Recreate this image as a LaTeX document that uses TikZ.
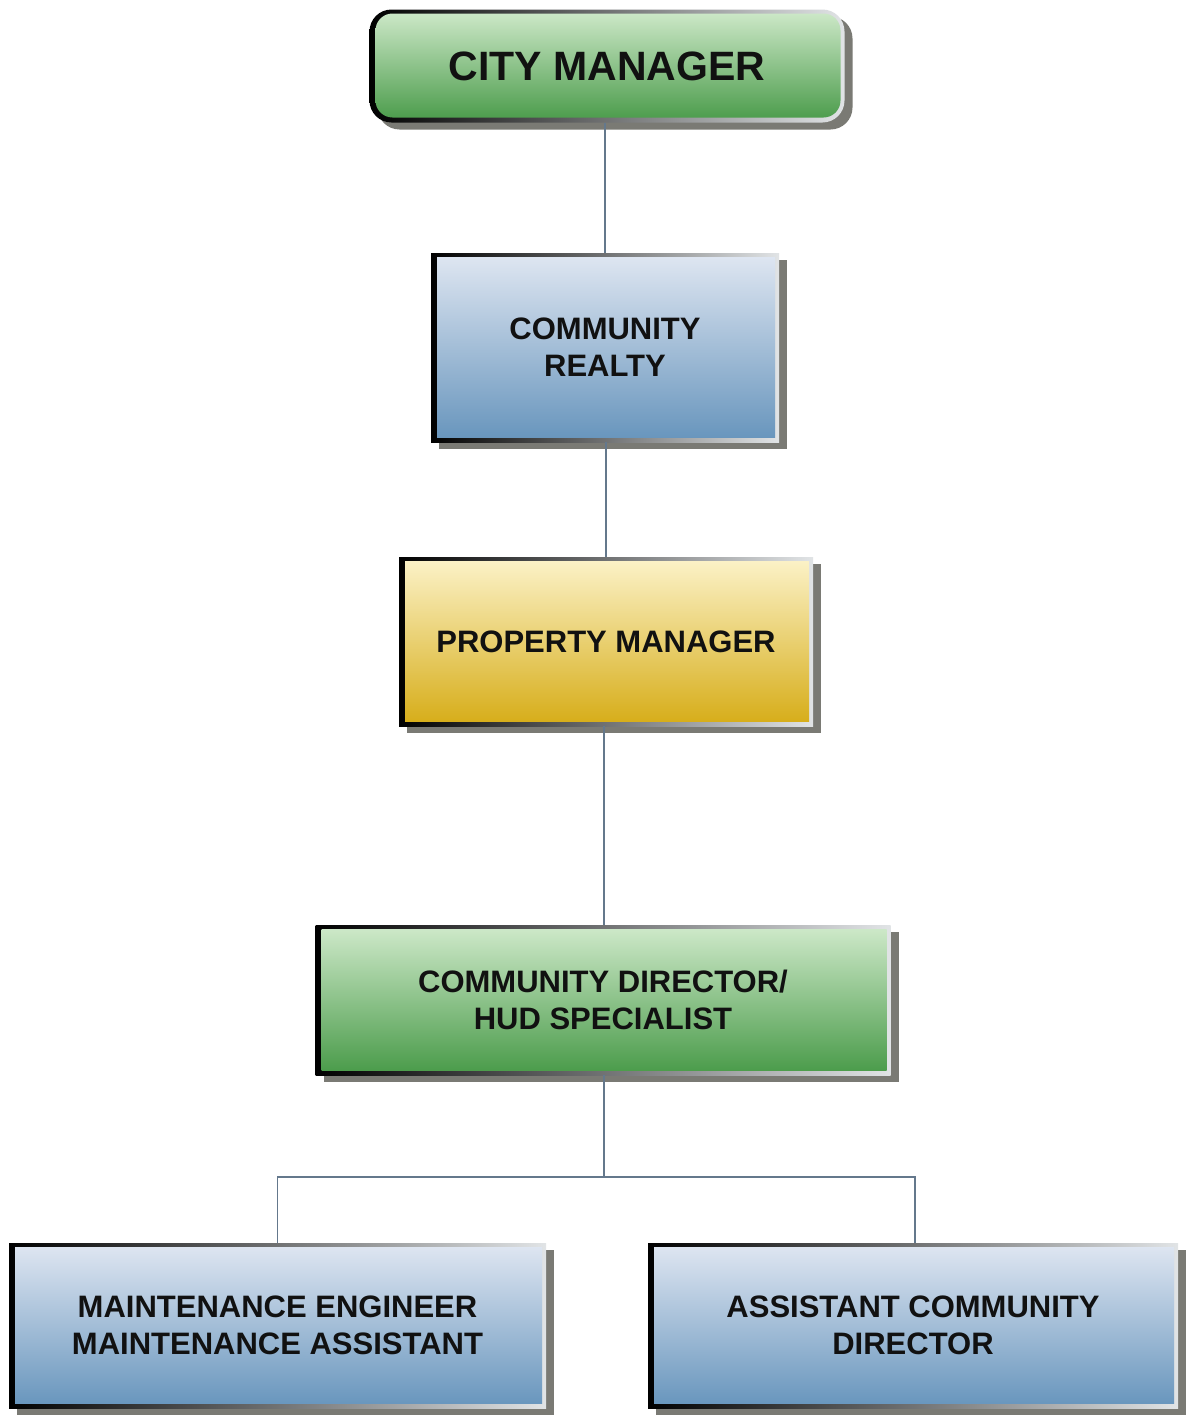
\documentclass[tikz,border=0pt]{standalone}
\usepackage{fontspec}
\setmainfont{Liberation Sans}
\usetikzlibrary{shadows}

\definecolor{greentop}{RGB}{208,234,203}
\definecolor{greenbot}{RGB}{72,154,72}
\definecolor{bluetop}{RGB}{224,231,242}
\definecolor{bluebot}{RGB}{102,148,188}
\definecolor{yellowtop}{RGB}{252,243,202}
\definecolor{yellowbot}{RGB}{214,172,22}
\definecolor{shadowgray}{RGB}{122,122,116}
\definecolor{rimlight}{RGB}{225,228,230}
\definecolor{linkcolor}{RGB}{100,120,140}
\definecolor{inkcolor}{RGB}{17,17,17}

\tikzset{
  % rim shaded dark on the left to light on the right, gray drop shadow,
  % inner face filled with a vertical gradient
  orgbox/.style n args={2}{
    left color=black, right color=rimlight,
    drop shadow={opacity=1, fill=shadowgray, shadow xshift=8pt, shadow yshift=-7pt},
    path picture={
      \shade[top color=#1, bottom color=#2]
        ([xshift=6pt,yshift=5pt]path picture bounding box.south west)
        rectangle ([xshift=-4pt,yshift=-4pt]path picture bounding box.north east);
    },
    align=center, text=inkcolor, font=\bfseries\fontsize{31}{37}\selectfont,
    inner sep=0pt
  },
  topbox/.style={
    rounded corners=22pt,
    left color=black, right color=rimlight,
    drop shadow={opacity=1, fill=shadowgray, shadow xshift=8pt, shadow yshift=-7pt},
    path picture={
      \shade[rounded corners=17pt, top color=greentop, bottom color=greenbot]
        ([xshift=6pt,yshift=5pt]path picture bounding box.south west)
        rectangle ([xshift=-4pt,yshift=-4pt]path picture bounding box.north east);
    },
    align=center, text=inkcolor, font=\bfseries\fontsize{41}{48}\selectfont,
    inner sep=0pt
  },
  link/.style={draw=linkcolor, line width=1.4pt}
}

\begin{document}
\begin{tikzpicture}[x=1pt,y=-1pt]
  \useasboundingbox[fill=white] (0,0) rectangle (1189,1416);

  \node[topbox, minimum width=475pt, minimum height=113pt] (city) at (607,66) {CITY MANAGER};

  \node[orgbox={bluetop}{bluebot}, minimum width=348pt, minimum height=189pt] (realty) at (605,347.5)
    {COMMUNITY\\REALTY};

  \node[orgbox={yellowtop}{yellowbot}, minimum width=414pt, minimum height=169pt] (property) at (606,641.5)
    {PROPERTY MANAGER};

  \node[orgbox={greentop}{greenbot}, minimum width=575pt, minimum height=150pt] (director) at (603,1000)
    {COMMUNITY DIRECTOR/\\HUD SPECIALIST};

  \node[orgbox={bluetop}{bluebot}, minimum width=537pt, minimum height=165pt] (maint) at (277.5,1325.5)
    {MAINTENANCE ENGINEER\\MAINTENANCE ASSISTANT};

  \node[orgbox={bluetop}{bluebot}, minimum width=530pt, minimum height=165pt] (assist) at (913,1325.5)
    {ASSISTANT COMMUNITY\\DIRECTOR};

  \coordinate (split) at (604,1177);

  % reporting lines
  \draw[link] (realty.north |- city.south) -- (realty.north);
  \draw[link] (property.north |- realty.south) -- (property.north);
  \draw[link] (split |- property.south) -- (split |- director.north);
  \draw[link] (split |- director.south) -- (split);
  \draw[link] (maint.north) |- (split) -| ([xshift=2pt]assist.north);
\end{tikzpicture}
\end{document}
